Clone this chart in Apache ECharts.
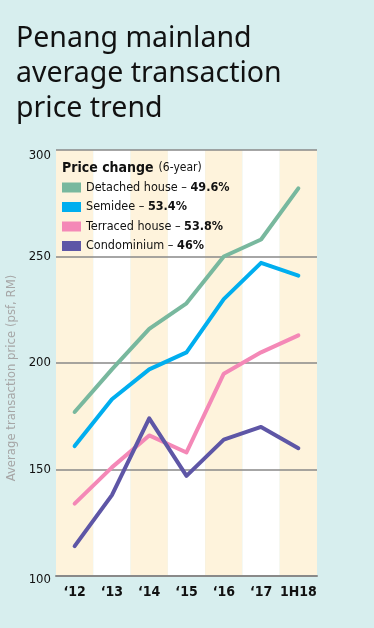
<!DOCTYPE html>
<html>
<head>
<meta charset="utf-8">
<script src="https://cdn.jsdelivr.net/npm/echarts@6/dist/echarts.min.js"></script>
<style>
html,body{margin:0;padding:0;background:#d7eeee;}
#chart{width:374px;height:628px;}
</style>
</head>
<body>
<div id="chart"></div>
<script>
const categories = ['\u201812', '\u201813', '\u201814', '\u201815', '\u201816', '\u201817', '1H18'];
const seriesNames = ['Detached house', 'Semidee', 'Terraced house', 'Condominium'];
const priceChange = ['49.6%', '53.4%', '53.8%', '46%'];
const detached = [177, 197, 216, 228, 250, 258, 282];
const semidee = [161, 183, 197, 205, 230, 247, 241];
const terraced = [134, 151, 166, 158, 195, 205, 213];
const condo = [114, 138, 174, 147, 164, 170, 160];
const yTicks = { min: 100, max: 300, interval: 50 };

const colors = ['#78b89e', '#00aeef', '#f488b7', '#5e56a6'];
const FONT = 'DejaVu Sans Condensed';
const valuesList = [detached, semidee, terraced, condo];

const chart = echarts.init(document.getElementById('chart'), null, { renderer: 'canvas' });
chart.setOption({
  backgroundColor: '#d7eeee',
  animation: false,
  title: [
    {
      text: 'Penang mainland\naverage transaction\nprice trend',
      left: 16, top: 21, padding: 0,
      textStyle: { fontFamily: 'Noto Sans', fontSize: 28.5, fontWeight: 'normal', lineHeight: 35, color: '#111' }
    },
    {
      text: '{b|Price change} {s|(6-year)}',
      left: 62, top: 159, padding: 0,
      textStyle: {
        rich: {
          b: { fontFamily: FONT, fontSize: 14, fontWeight: 'bold', color: '#111', lineHeight: 16 },
          s: { fontFamily: FONT, fontSize: 12, fontWeight: 'normal', color: '#111', lineHeight: 16 }
        }
      }
    }
  ],
  graphic: [{
    type: 'text', x: 12, y: 378, rotation: Math.PI / 2,
    style: { text: 'Average transaction price (psf, RM)', textAlign: 'center', textVerticalAlign: 'middle',
      fill: '#a6a6a6', font: '13px "DejaVu Sans Condensed"' }
  }],
  legend: {
    orient: 'vertical', left: 62, top: 181, padding: 0,
    itemWidth: 19, itemHeight: 10, itemGap: 6.5, icon: 'rect', selectedMode: false,
    data: seriesNames,
    formatter: function (name) {
      const i = seriesNames.indexOf(name);
      return '{n|' + name + ' \u2013 }{p|' + priceChange[i] + '}';
    },
    textStyle: {
      padding: [0, 0, 0, 0],
      rich: {
        n: { fontFamily: FONT, fontSize: 12.5, color: '#111', lineHeight: 16 },
        p: { fontFamily: FONT, fontSize: 12.5, fontWeight: 'bold', color: '#111', lineHeight: 16 }
      }
    }
  },
  grid: { left: 56, right: 57, top: 150, bottom: 52, containLabel: false },
  xAxis: {
    type: 'category', data: categories, boundaryGap: true, z: 0,
    axisLine: { show: true, lineStyle: { color: '#8a8a8a', width: 2 } },
    axisTick: { show: false },
    axisLabel: { interval: 0, margin: 9, fontFamily: FONT, fontSize: 14, fontWeight: 'bold', color: '#111' },
    splitLine: { show: false },
    splitArea: { show: true, interval: 0, areaStyle: { color: ['#fef3dc', '#ffffff'] } }
  },
  yAxis: {
    type: 'value', min: yTicks.min, max: yTicks.max, interval: yTicks.interval, z: 1,
    axisLine: { show: false }, axisTick: { show: false },
    splitLine: { show: true, lineStyle: { color: '#888', width: 1.5 } },
    axisLabel: {
      margin: 5, fontFamily: FONT, fontSize: 13, color: '#111',
      formatter: function (v) {
        if (v === 300) return '{t|' + v + '}';
        if (v === 100) return '{d|' + v + '}';
        return '{m|' + v + '}';
      },
      rich: {
        t: { fontFamily: FONT, fontSize: 13, color: '#111', padding: [12, 0, 0, 0] },
        d: { fontFamily: FONT, fontSize: 13, color: '#111', padding: [8, 0, 0, 0] },
        m: { fontFamily: FONT, fontSize: 13, color: '#111' }
      }
    }
  },
  series: seriesNames.map((name, i) => ({
    name: name, type: 'line', data: valuesList[i], symbol: 'none', smooth: false,
    lineStyle: { color: colors[i], width: 4, cap: 'round', join: 'round' },
    itemStyle: { color: colors[i] },
    z: 2 + i
  }))
});
</script>
</body>
</html>
